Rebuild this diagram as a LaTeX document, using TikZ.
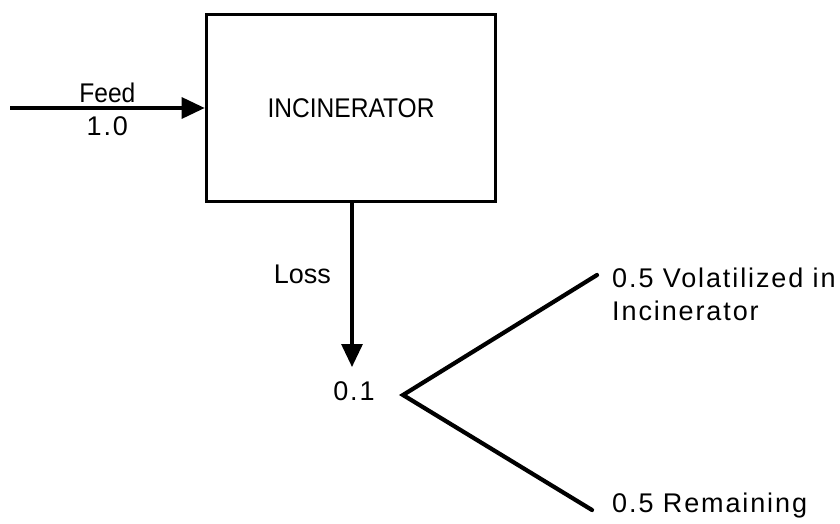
\documentclass[tikz,border=0pt]{standalone}
\usepackage{fontspec}
\setmainfont{Liberation Sans}
\newfontfamily\narrowfont[FakeStretch=0.91]{Liberation Sans}
\newfontfamily\spacedfont[LetterSpace=7]{Liberation Sans}
\usetikzlibrary{arrows.meta}
\begin{document}
\begin{tikzpicture}[x=1pt,y=-1pt,
  font=\fontsize{27}{33}\selectfont,
  unit/.style={draw,line width=3.6pt,minimum width=289pt,minimum height=187pt,font=\narrowfont\fontsize{27}{33}\selectfont},
  flow/.style={line width=3.2pt,-{Triangle[length=23pt,width=21pt]}},
  branch/.style={line width=4.2pt,line cap=round,line join=miter},
  lbl/.style={inner sep=0pt}]
\useasboundingbox (0,0) rectangle (840,524);

\node[unit] (inc) at (351,108) {INCINERATOR};

\coordinate (feedin) at (10,108);
\draw[flow] (feedin) -- (inc.west)
  node[midway,above=4pt,lbl,font=\narrowfont\fontsize{27}{33}\selectfont] (feed) {Feed}
  node[midway,below=7pt,lbl,font=\spacedfont\fontsize{27}{33}\selectfont] (feedval) {1.0};

\coordinate (lossend) at (352,367);
\draw[flow] (inc.south -| lossend) -- (lossend);
\node[lbl,anchor=base east] (loss) at (331,283) {Loss};
\node[lbl,anchor=base,font=\spacedfont\fontsize{27}{33}\selectfont] (lossval) at (354,400) {0.1};

\coordinate (fork) at (403,395);
\coordinate (upend) at (597,275);
\coordinate (lowend) at (592,510);
\draw[branch] (upend) -- (fork) -- (lowend);

\node[lbl,anchor=north west,align=left,font=\spacedfont\fontsize{27}{33}\selectfont] (volat) at (612,268) {0.5 Volatilized in\\Incinerator};
\node[lbl,anchor=base west,font=\spacedfont\fontsize{27}{33}\selectfont] (remain) at (612,512) {0.5 Remaining};
\end{tikzpicture}
\end{document}
